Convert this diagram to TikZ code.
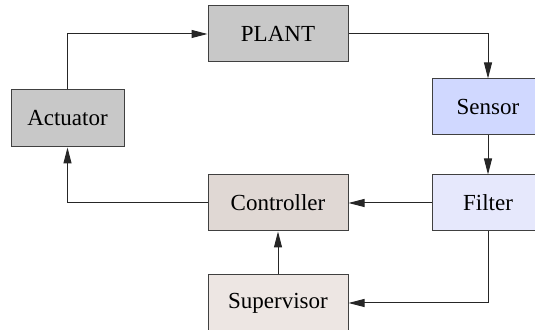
\documentclass[tikz,border=0pt]{standalone}
\usepackage{fontspec}
\setmainfont{Liberation Serif}
\usetikzlibrary{arrows.meta}
\definecolor{plantgray}{HTML}{C8C8C8}
\definecolor{sensorblue}{HTML}{D0D8FF}
\definecolor{filterblue}{HTML}{E6E8FC}
\definecolor{ctrlfill}{HTML}{E0D8D4}
\definecolor{supfill}{HTML}{EDE6E3}
\definecolor{edgegray}{HTML}{404040}
\begin{document}
\begin{tikzpicture}[x=0.5pt,y=-0.5pt,
  block/.style={draw=edgegray,line width=0.5pt,inner sep=0pt,
    minimum width=70pt,minimum height=28pt,font=\fontsize{11.5}{13}\selectfont},
  flow/.style={line width=0.5pt,draw=black!85,-{Triangle[length=8pt,width=4pt]}}]
  \useasboundingbox (0,0) rectangle (535,330);
  \clip (0,0) rectangle (535,330);
  % blocks
  \node[block,fill=plantgray] (plant) at (278,34) {PLANT};
  \node[block,fill=plantgray,minimum width=56.5pt,minimum height=28.5pt] (act) at (67.5,118.5) {Actuator};
  \node[block,fill=sensorblue,minimum width=56pt] (sensor) at (488,107) {Sensor};
  \node[block,fill=filterblue,minimum width=56pt] (filter) at (488,203) {Filter};
  \node[block,fill=ctrlfill] (ctrl) at (278,203) {Controller};
  \node[block,fill=supfill] (sup) at (278,303) {Supervisor};
  % signal paths
  \draw[flow] (act.north) |- (plant.west);
  \draw[flow] (plant.east) -| (sensor.north);
  \draw[flow] (sensor) -- (filter);
  \draw[flow] (filter) -- (ctrl);
  \draw[flow] (ctrl.west) -| (act.south);
  \draw[flow] (filter.south) |- (sup.east);
  \draw[flow] (sup.north) -- (ctrl.south);
\end{tikzpicture}
\end{document}
